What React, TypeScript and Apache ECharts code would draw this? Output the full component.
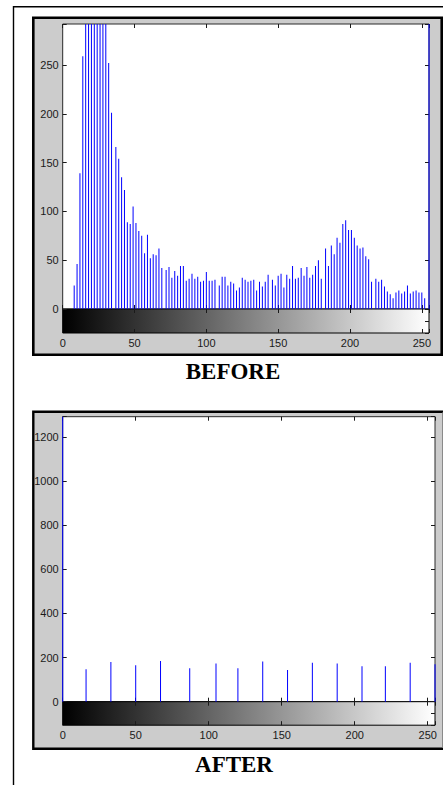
import React, { useEffect, useRef } from 'react';
import * as echarts from 'echarts';

// ---- data ----
const beforeBins = [
  8, 10, 12, 14, 16, 18, 20, 22, 24, 26, 28, 30, 32, 34,
  37, 39, 41, 43, 45, 47, 49, 51, 53, 55, 57, 59, 61, 63, 65, 67, 69,
  72, 74, 76, 78, 80, 82, 84, 86, 88, 90, 92, 94, 96, 98, 100, 102, 104, 106,
  109, 111, 113, 115, 117, 119, 121, 123, 125, 127, 129, 131, 133, 135, 137, 139, 141, 143,
  146, 148, 150, 152, 154, 156, 158, 160, 162, 164, 166, 168, 170, 172, 174, 176, 178, 180,
  183, 185, 187, 189, 191, 193, 195, 197, 199, 201, 203, 205, 207, 209, 211, 213, 215,
  218, 220, 222, 224, 226, 228, 230, 232, 234, 236, 238, 240, 242, 244, 246, 248, 250, 252,
  255,
];
const beforeCounts = [
  24, 46, 139, 259, 310, 360, 380, 390, 370, 350, 330, 300, 252, 201,
  166, 154, 135, 122, 89, 87, 105, 88, 80, 75, 57, 76, 52, 56, 55, 62, 42,
  40, 43, 32, 39, 34, 44, 44, 29, 31, 36, 31, 33, 28, 29, 38, 29, 29, 30,
  24, 33, 33, 24, 28, 26, 19, 22, 32, 30, 28, 29, 30, 19, 28, 23, 28, 35,
  30, 24, 34, 36, 22, 35, 31, 44, 31, 32, 42, 34, 43, 32, 35, 44, 50, 31,
  62, 44, 65, 56, 73, 68, 87, 91, 81, 81, 73, 65, 62, 63, 54, 51, 28,
  31, 28, 30, 23, 18, 15, 11, 17, 19, 16, 18, 24, 16, 18, 19, 17, 17, 11,
  420,
];
const afterBins = [0, 16, 33, 50, 67, 87, 105, 120, 137, 154, 171, 188, 205, 221, 238, 255];
const afterCounts = [1400, 147, 180, 165, 185, 152, 173, 152, 182, 144, 177, 173, 161, 161, 177, 170];

const xTicks = [0, 50, 100, 150, 200, 250];
const beforeYTicks = [0, 50, 100, 150, 200, 250];
const afterYTicks = [0, 200, 400, 600, 800, 1000, 1200];
const xMax = 255;
const beforeYMax = 292;
const afterYMax = 1292;
const titles = ['BEFORE', 'AFTER'];

const SANS = "'Liberation Sans', Arial, Helvetica, sans-serif";
const SERIF = "'Liberation Serif', 'Times New Roman', serif";
const TXT = '#1a1a1a';

const tick = (len = 4) => ({
  show: true,
  inside: true,
  length: len,
  lineStyle: { color: '#1a1a1a', width: 1 },
});

function xAxis(gridIndex: number, position: string, showLabels: boolean) {
  return {
    type: 'value',
    gridIndex,
    position,
    min: 0,
    max: xMax,
    interval: 50,
    axisLine: { show: false, onZero: false },
    axisTick: tick(4),
    axisLabel: {
      show: showLabels,
      margin: 4,
      color: TXT,
      fontSize: 11,
      fontFamily: SANS,
      formatter: (v: number) => (xTicks.includes(v) ? String(v) : ''),
    },
    splitLine: { show: false },
  };
}

function yAxis(
  gridIndex: number,
  position: string,
  max: number,
  interval: number,
  ticks: number[] | null,
) {
  return {
    type: 'value',
    gridIndex,
    position,
    min: 0,
    max,
    interval,
    axisLine: { show: false, onZero: false },
    axisTick: tick(4),
    axisLabel: {
      show: !!ticks,
      margin: 4,
      color: TXT,
      fontSize: 11,
      fontFamily: SANS,
      formatter: (v: number) => (ticks && ticks.includes(v) ? String(v) : ''),
    },
    splitLine: { show: false },
  };
}

const gray = () =>
  new echarts.graphic.LinearGradient(0, 0, 1, 0, [
    { offset: 0, color: '#000000' },
    { offset: 1, color: '#ffffff' },
  ]);

export default function App() {
  const ref = useRef<HTMLDivElement>(null);

  useEffect(() => {
    document.body.style.margin = '0';
    if (!ref.current) return;
    const chart = echarts.init(ref.current, undefined, { renderer: 'svg' });

    const plotGrid = (left: number, top: number, width: number, height: number) => ({
      left,
      top,
      width,
      height,
      show: true,
      backgroundColor: '#ffffff',
      borderColor: '#2a2a2a',
      borderWidth: 1,
      containLabel: false,
      outerBoundsMode: 'none',
    });
    const barGrid = (left: number, top: number, width: number, height: number) => ({
      left,
      top,
      width,
      height,
      show: true,
      backgroundColor: gray(),
      borderColor: '#000000',
      borderWidth: 1,
      containLabel: false,
      outerBoundsMode: 'none',
    });

    const option: any = {
      animation: false,
      backgroundColor: '#ffffff',
      grid: [
        plotGrid(62.7, 24, 366.3, 285),
        barGrid(62.7, 309, 366.3, 24),
        plotGrid(62.7, 416.7, 372.3, 285),
        barGrid(62.7, 701.7, 372.3, 23.5),
      ],
      xAxis: [
        xAxis(0, 'bottom', false),
        xAxis(0, 'top', false),
        xAxis(1, 'top', false),
        xAxis(1, 'bottom', true),
        xAxis(2, 'bottom', false),
        xAxis(2, 'top', false),
        xAxis(3, 'top', false),
        xAxis(3, 'bottom', true),
      ],
      yAxis: [
        yAxis(0, 'left', beforeYMax, 50, beforeYTicks),
        yAxis(0, 'right', beforeYMax, 50, null),
        yAxis(1, 'right', 1, 0.5, null),
        yAxis(2, 'left', afterYMax, 200, afterYTicks),
        yAxis(2, 'right', afterYMax, 200, null),
        yAxis(3, 'right', 1, 0.5, null),
      ],
      series: [
        {
          type: 'bar',
          name: 'before',
          xAxisIndex: 0,
          yAxisIndex: 0,
          data: beforeBins.map((b, i) => [b, beforeCounts[i]]),
          barWidth: 1,
          itemStyle: { color: '#0000ff' },
          clip: true,
          silent: true,
        },
        {
          type: 'bar',
          name: 'after',
          xAxisIndex: 4,
          yAxisIndex: 3,
          data: afterBins.map((b, i) => [b, afterCounts[i]]),
          barWidth: 1,
          itemStyle: { color: '#0000ff' },
          clip: true,
          silent: true,
        },
      ],
      graphic: [
        {
          type: 'rect',
          z: -10,
          silent: true,
          shape: { x: 33.3, y: 17.8, width: 408.4, height: 336.9 },
          style: { fill: '#cccccc', stroke: '#000000', lineWidth: 2.6 },
        },
        {
          type: 'rect',
          z: -10,
          silent: true,
          shape: { x: 33.3, y: 411.7, width: 420, height: 337 },
          style: { fill: '#cccccc', stroke: '#000000', lineWidth: 2.4 },
        },
        {
          type: 'line',
          z: -9,
          silent: true,
          shape: { x1: 442.5, y1: 412.5, x2: 442.5, y2: 747.5 },
          style: { stroke: '#8a8a8a', lineWidth: 1 },
        },
        {
          type: 'polyline',
          z: -9,
          silent: true,
          shape: { points: [[13.5, 790], [13.5, 6.7], [445, 6.7]] },
          style: { fill: 'none', stroke: '#000000', lineWidth: 1.4 },
        },
        {
          type: 'text',
          silent: true,
          x: 233,
          y: 371,
          style: {
            text: titles[0],
            fill: '#000000',
            font: `bold 23px ${SERIF}`,
            textAlign: 'center',
            textVerticalAlign: 'middle',
          },
        },
        {
          type: 'text',
          silent: true,
          x: 234,
          y: 764,
          style: {
            text: titles[1],
            fill: '#000000',
            font: `bold 23px ${SERIF}`,
            textAlign: 'center',
            textVerticalAlign: 'middle',
          },
        },
      ],
    };

    chart.setOption(option);
    return () => {
      chart.dispose();
    };
  }, []);

  return <div ref={ref} style={{ width: 443, height: 785, background: '#ffffff' }} />;
}
